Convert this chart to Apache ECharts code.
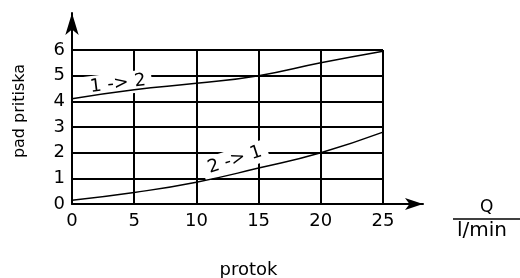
<!DOCTYPE html>
<html>
<head>
<meta charset="utf-8">
<script src="https://cdn.jsdelivr.net/npm/echarts@6/dist/echarts.min.js"></script>
<style>
  html, body { margin: 0; padding: 0; background: #fff; }
  #chart { width: 520px; height: 278px; }
</style>
</head>
<body>
<div id="chart"></div>
<script>
  // protok Q (l/min) i pad pritiska za oba smjera strujanja
  var flowQ = [0, 5, 10, 15, 20, 25];
  var drop12 = [4.1, 4.45, 4.7, 5.0, 5.5, 5.95];
  var drop21 = [0.15, 0.45, 0.85, 1.4, 2.0, 2.8];
  var curveNames = ["1 -> 2", "2 -> 1"];
  var xTicks = [0, 5, 10, 15, 20, 25];
  var yTicks = [0, 1, 2, 3, 4, 5, 6];

  var FONT = "DejaVu Sans";
  var INK = "#000";

  function pairs(xs, ys) {
    return xs.map(function (x, i) { return [x, ys[i]]; });
  }

  function curveLabel(text, coord, rot) {
    return {
      z: 1,
      symbol: "rect",
      symbolSize: 0,
      silent: true,
      label: {
        show: true,
        position: "inside",
        formatter: text,
        rotate: rot,
        color: INK,
        fontFamily: FONT,
        fontSize: 18,
        backgroundColor: "#fff",
        padding: [3, 6, 1, 6]
      },
      data: [{ coord: coord, value: 0 }]
    };
  }

  var chart = echarts.init(document.getElementById("chart"), null, { renderer: "canvas" });

  chart.setOption({
    animation: false,
    backgroundColor: "#fff",
    grid: [
      { left: 72, right: 137, top: 50, bottom: 74, containLabel: false, outerBoundsMode: "none" },
      { left: 72, right: 97, top: 13, bottom: 74, containLabel: false, outerBoundsMode: "none" }
    ],
    xAxis: [
      {
        gridIndex: 0,
        type: "value",
        min: xTicks[0],
        max: xTicks[xTicks.length - 1],
        interval: 5,
        axisLine: { show: false },
        axisTick: { show: false },
        axisLabel: { color: INK, fontFamily: FONT, fontSize: 18, margin: 8 },
        splitLine: { show: true, lineStyle: { color: INK, width: 2 } },
        name: "protok",
        nameLocation: "middle",
        nameGap: 57,
        nameTextStyle: { color: INK, fontFamily: FONT, fontSize: 18, padding: [0, 0, 0, 42] }
      },
      {
        gridIndex: 1,
        type: "value",
        min: 0,
        max: 1,
        axisLine: {
          show: true,
          symbol: ["none", "arrow"],
          symbolSize: [9, 18],
          lineStyle: { color: INK, width: 2 }
        },
        axisTick: { show: false },
        axisLabel: { show: false },
        splitLine: { show: false }
      }
    ],
    yAxis: [
      {
        gridIndex: 0,
        type: "value",
        min: yTicks[0],
        max: yTicks[yTicks.length - 1],
        interval: 1,
        axisLine: { show: false },
        axisTick: { show: false },
        axisLabel: { color: INK, fontFamily: FONT, fontSize: 18, margin: 7 },
        splitLine: { show: true, lineStyle: { color: INK, width: 2 } },
        name: "pad pritiska",
        nameLocation: "middle",
        nameGap: 44,
        nameRotate: 90,
        nameTextStyle: { color: INK, fontFamily: FONT, fontSize: 16, padding: [0, 0, 0, 32] }
      },
      {
        gridIndex: 1,
        type: "value",
        min: 0,
        max: 1,
        axisLine: {
          show: true,
          symbol: ["none", "arrow"],
          symbolSize: [10, 22],
          lineStyle: { color: INK, width: 2 }
        },
        axisTick: { show: false },
        axisLabel: { show: false },
        splitLine: { show: false }
      }
    ],
    series: [
      {
        name: curveNames[0],
        type: "line",
        xAxisIndex: 0,
        yAxisIndex: 0,
        z: 3,
        smooth: true,
        symbol: "none",
        lineStyle: { color: INK, width: 1.5 },
        data: pairs(flowQ, drop12),
        markPoint: curveLabel(curveNames[0], [3.7, 4.68], 7)
      },
      {
        name: curveNames[1],
        type: "line",
        xAxisIndex: 0,
        yAxisIndex: 0,
        z: 3,
        smooth: true,
        symbol: "none",
        lineStyle: { color: INK, width: 1.5 },
        data: pairs(flowQ, drop21),
        markPoint: curveLabel(curveNames[1], [13.1, 1.72], 18)
      }
    ],
    graphic: [
      {
        type: "text",
        left: 480, top: 199,
        style: { text: "Q", fill: INK, font: "17px " + FONT }
      },
      {
        type: "line",
        shape: { x1: 453, y1: 219, x2: 520, y2: 219 },
        style: { stroke: INK, lineWidth: 1.5 }
      },
      {
        type: "text",
        left: 457, top: 221,
        style: { text: "l/min", fill: INK, font: "20px " + FONT }
      }
    ]
  });
</script>
</body>
</html>
